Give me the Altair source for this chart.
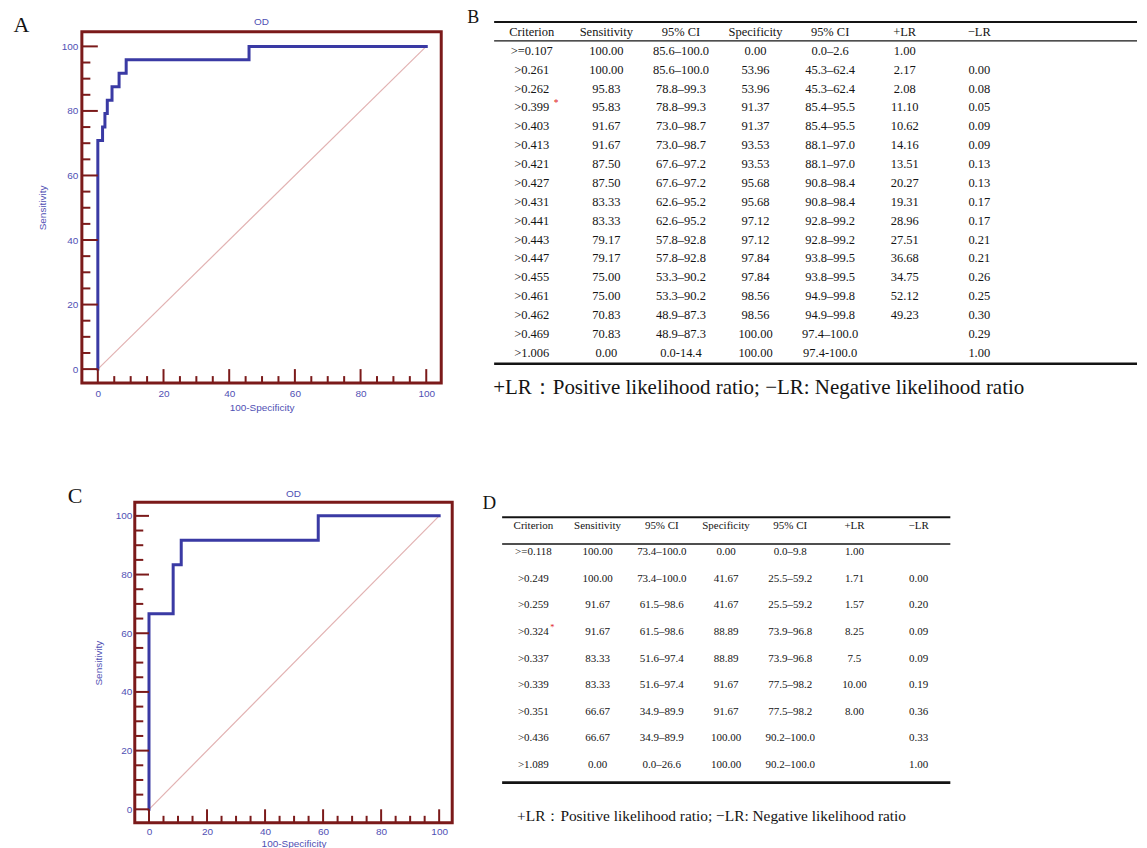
import altair as alt
import pandas as pd

# ---------------- Table B (and ROC A) data ----------------
crit_b = [">=0.107", ">0.261", ">0.262", ">0.399", ">0.403", ">0.413", ">0.421", ">0.427",
          ">0.431", ">0.441", ">0.443", ">0.447", ">0.455", ">0.461", ">0.462", ">0.469", ">1.006"]
sens_b = [100.00, 100.00, 95.83, 95.83, 91.67, 91.67, 87.50, 87.50,
          83.33, 83.33, 79.17, 79.17, 75.00, 75.00, 70.83, 70.83, 0.00]
sens_ci_b = ["85.6–100.0", "85.6–100.0", "78.8–99.3", "78.8–99.3", "73.0–98.7", "73.0–98.7",
             "67.6–97.2", "67.6–97.2", "62.6–95.2", "62.6–95.2", "57.8–92.8", "57.8–92.8",
             "53.3–90.2", "53.3–90.2", "48.9–87.3", "48.9–87.3", "0.0-14.4"]
spec_b = [0.00, 53.96, 53.96, 91.37, 91.37, 93.53, 93.53, 95.68,
          95.68, 97.12, 97.12, 97.84, 97.84, 98.56, 98.56, 100.00, 100.00]
spec_ci_b = ["0.0–2.6", "45.3–62.4", "45.3–62.4", "85.4–95.5", "85.4–95.5", "88.1–97.0",
             "88.1–97.0", "90.8–98.4", "90.8–98.4", "92.8–99.2", "92.8–99.2", "93.8–99.5",
             "93.8–99.5", "94.9–99.8", "94.9–99.8", "97.4–100.0", "97.4-100.0"]
plr_b = ["1.00", "2.17", "2.08", "11.10", "10.62", "14.16", "13.51", "20.27", "19.31",
         "28.96", "27.51", "36.68", "34.75", "52.12", "49.23", "", ""]
nlr_b = ["", "0.00", "0.08", "0.05", "0.09", "0.09", "0.13", "0.13", "0.17",
         "0.17", "0.21", "0.21", "0.26", "0.25", "0.30", "0.29", "1.00"]
best_b = 3

# ---------------- Table D (and ROC C) data ----------------
crit_d = [">=0.118", ">0.249", ">0.259", ">0.324", ">0.337", ">0.339", ">0.351", ">0.436", ">1.089"]
sens_d = [100.00, 100.00, 91.67, 91.67, 83.33, 83.33, 66.67, 66.67, 0.00]
sens_ci_d = ["73.4–100.0", "73.4–100.0", "61.5–98.6", "61.5–98.6", "51.6–97.4", "51.6–97.4",
             "34.9–89.9", "34.9–89.9", "0.0–26.6"]
spec_d = [0.00, 41.67, 41.67, 88.89, 88.89, 91.67, 91.67, 100.00, 100.00]
spec_ci_d = ["0.0–9.8", "25.5–59.2", "25.5–59.2", "73.9–96.8", "73.9–96.8", "77.5–98.2",
             "77.5–98.2", "90.2–100.0", "90.2–100.0"]
plr_d = ["1.00", "1.71", "1.57", "8.25", "7.5", "10.00", "8.00", "", ""]
nlr_d = ["", "0.00", "0.20", "0.09", "0.09", "0.19", "0.36", "0.33", "1.00"]
best_d = 3

headers = ["Criterion", "Sensitivity", "95% CI", "Specificity", "95% CI", "+LR", "−LR"]
footnote = "+LR：Positive likelihood ratio; −LR: Negative likelihood ratio"
plot_title = "OD"
x_title = "100-Specificity"
y_title = "Sensitivity"
letters = ["A", "B", "C", "D"]

major_ticks = [0, 20, 40, 60, 80, 100]
minor_ticks = [5, 10, 15, 25, 30, 35, 45, 50, 55, 65, 70, 75, 85, 90, 95]
diag_pts = [0, 100]

# ---------------- styles ----------------
MAROON = "#7b1a1a"
CURVE = "#3a3aa4"
LABEL = "#5050b4"
DIAG = "#e2b2b2"
INK = "#141414"
RED = "#e02020"
SANS = "Liberation Sans"
SERIF = "Liberation Serif"


def roc_panel(sens, spec, w, h, xdom, ydom, letter, lx, ly, title_dy, lab_pad_x, lab_pad_y,
              tpad_x, tpad_y, fs):
    xs = alt.Scale(domain=xdom, nice=False, zero=False)
    ys = alt.Scale(domain=ydom, nice=False, zero=False)
    curve_df = pd.DataFrame({"fpr": [100 - s for s in spec], "sens": sens,
                             "i": list(range(len(sens)))})
    diag_df = pd.DataFrame({"fpr": diag_pts, "sens": diag_pts})
    maj = pd.DataFrame({"v": major_ticks})
    mnr = pd.DataFrame({"v": minor_ticks})

    ax_common = dict(values=major_ticks, tickSize=0, ticks=False, domain=False, grid=False,
                     labelFont=SANS, labelFontSize=fs, labelColor=LABEL, labelFlush=False,
                     labelOverlap=False, titleFont=SANS, titleFontSize=fs,
                     titleFontWeight="normal", titleColor=LABEL)
    ax_x = alt.Axis(title=x_title, labelPadding=lab_pad_x, titlePadding=tpad_x, **ax_common)
    ax_y = alt.Axis(title=y_title, labelPadding=lab_pad_y, titlePadding=tpad_y, **ax_common)

    curve = alt.Chart(curve_df).mark_line(color=CURVE, strokeWidth=3, strokeJoin="miter",
                                          strokeCap="square").encode(
        x=alt.X("fpr:Q", scale=xs, axis=ax_x),
        y=alt.Y("sens:Q", scale=ys, axis=ax_y),
        order="i:Q",
    )
    diag = alt.Chart(diag_df).mark_line(color=DIAG, strokeWidth=1.2).encode(
        x=alt.X("fpr:Q", scale=xs, axis=ax_x), y=alt.Y("sens:Q", scale=ys, axis=ax_y))

    y_major = alt.Chart(maj).mark_rule(color=MAROON, strokeWidth=2).encode(
        y=alt.Y("v:Q", scale=ys, axis=ax_y),
        x=alt.X(datum=0, type="quantitative", scale=xs, axis=ax_x), x2=alt.value(0))
    y_minor = alt.Chart(mnr).mark_rule(color=MAROON, strokeWidth=2).encode(
        y=alt.Y("v:Q", scale=ys, axis=ax_y), x=alt.value(0), x2=alt.value(8.5))
    x_major = alt.Chart(maj).mark_rule(color=MAROON, strokeWidth=2).encode(
        x=alt.X("v:Q", scale=xs, axis=ax_x),
        y=alt.Y(datum=0, type="quantitative", scale=ys, axis=ax_y), y2=alt.value(h))
    x_minor = alt.Chart(mnr).mark_rule(color=MAROON, strokeWidth=2).encode(
        x=alt.X("v:Q", scale=xs, axis=ax_x), y=alt.value(h), y2=alt.value(h - 7))

    let = alt.Chart(pd.DataFrame({"t": [letter]})).mark_text(
        font=SERIF, fontSize=22, color=INK, align="center", baseline="middle").encode(
        text="t:N", x=alt.value(lx), y=alt.value(ly))
    ttl = alt.Chart(pd.DataFrame({"t": [plot_title]})).mark_text(
        font=SANS, fontSize=fs, color=LABEL, align="center", baseline="middle").encode(
        text="t:N", x=alt.value(w / 2), y=alt.value(title_dy))

    return alt.layer(diag, curve, y_major, y_minor, x_major, x_minor, let, ttl).properties(
        width=w, height=h,
        view=alt.ViewBackground(stroke=MAROON, strokeWidth=3, fill="white"),
    )


def table_panel(crit, sens, sens_ci, spec, spec_ci, plr, nlr, best, w, h, xr, yr,
                rule_rows, rule_widths, fs, foot_x, foot_y, foot_fs, letter, lx, ly, lfs,
                star_dx, star_dy):
    recs = []
    for c, t in enumerate(headers):
        recs.append({"row": -1, "col": c, "txt": t})
    for r in range(len(crit)):
        vals = [crit[r], f"{sens[r]:.2f}", sens_ci[r], f"{spec[r]:.2f}", spec_ci[r], plr[r], nlr[r]]
        for c, t in enumerate(vals):
            recs.append({"row": r, "col": c, "txt": t})
    df = pd.DataFrame(recs)
    xs = alt.Scale(domain=[0, len(headers) - 1], range=xr, nice=False, zero=False)
    ys = alt.Scale(domain=[-1, len(crit) - 1], range=yr, nice=False, zero=False)

    cells = alt.Chart(df).mark_text(font=SERIF, fontSize=fs, color=INK, align="center",
                                    baseline="middle").encode(
        x=alt.X("col:Q", scale=xs, axis=None), y=alt.Y("row:Q", scale=ys, axis=None),
        text="txt:N")
    star = alt.Chart(pd.DataFrame({"col": [0], "row": [best], "t": ["*"]})).mark_text(
        font=SERIF, fontSize=fs * 0.75, color=RED, align="left", baseline="middle",
        dx=star_dx, dy=star_dy).encode(
        x=alt.X("col:Q", scale=xs, axis=None), y=alt.Y("row:Q", scale=ys, axis=None),
        text="t:N")
    layers = [cells, star]
    for rr, sw in zip(rule_rows, rule_widths):
        layers.append(alt.Chart(pd.DataFrame({"r": [rr]})).mark_rule(
            color=INK, strokeWidth=sw).encode(
            y=alt.Y("r:Q", scale=ys, axis=None), x=alt.value(0), x2=alt.value(w)))
    layers.append(alt.Chart(pd.DataFrame({"t": [footnote]})).mark_text(
        font=SERIF, fontSize=foot_fs, color=INK, align="left", baseline="middle").encode(
        text="t:N", x=alt.value(foot_x), y=alt.value(foot_y)))
    layers.append(alt.Chart(pd.DataFrame({"t": [letter]})).mark_text(
        font=SERIF, fontSize=lfs, color=INK, align="center", baseline="middle").encode(
        text="t:N", x=alt.value(lx), y=alt.value(ly)))
    return alt.layer(*layers).properties(
        width=w, height=h, view=alt.ViewBackground(strokeWidth=0, strokeOpacity=0))


panel_a = roc_panel(sens_b, spec_b, 360, 352, [-4.86, 104.56], [-4.33, 104.55],
                    letters[0], -60.5, -6.5, -9.3, 5, 4, 4, 14, 10)
panel_b = table_panel(crit_b, sens_b, sens_ci_b, spec_b, spec_ci_b, plr_b, nlr_b, best_b,
                      644, 352, [37.7, 486], [0.3, 321.6], [-1.53, -0.53, 16.58],
                      [2, 1.4, 2.6], 12.5, -1, 357, 21, letters[1], -21, -14, 18, 22, -4)

panel_c = roc_panel(sens_d, spec_d, 318, 321, [-4.9, 104.5], [-4.6, 104.6],
                    letters[2], -59.8, -6.8, -8.3, 4, 3, 2, 12, 10)
panel_d = table_panel(crit_d, sens_d, sens_ci_d, spec_d, spec_ci_d, plr_d, nlr_d, best_d,
                      449, 321, [31.3, 417.3], [23.35, 263.2], [-1.32, -0.31, 8.66],
                      [2, 1.4, 2.6], 11, 15, 314, 15.4, letters[3], -12.7, 0.5, 19, 17, -4)

spacer = alt.Chart(pd.DataFrame({"a": [0]})).mark_point(opacity=0).encode(
    x=alt.value(0), y=alt.value(0)).properties(
    width=3, height=1, view=alt.ViewBackground(strokeWidth=0, strokeOpacity=0))

row1 = alt.hconcat(panel_a, panel_b, spacing=53, bounds="flush")
row2 = alt.hconcat(spacer, panel_c, panel_d, spacing=50, bounds="flush")

chart = alt.vconcat(row1, row2, spacing=68.5).properties(
    padding={"left": 4, "top": 0, "right": 0, "bottom": 0},
    background="white",
).configure_view(strokeWidth=0)

chart.save("out.html", embed_options={"renderer": "svg", "actions": False})
